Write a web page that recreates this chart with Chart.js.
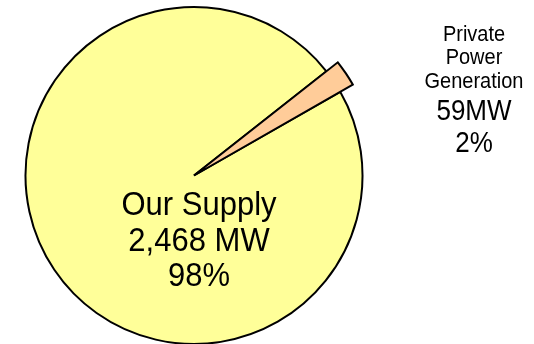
<!DOCTYPE html>
<html>
<head>
<meta charset="utf-8">
<script src="https://cdn.jsdelivr.net/npm/chart.js@4/dist/chart.umd.min.js"></script>
<style>
html,body{margin:0;padding:0;background:#fff;}
#wrap{width:534px;height:344px;position:relative;}
</style>
</head>
<body>
<div id="wrap"><canvas id="c" width="534" height="344"></canvas></div>
<script>
const categories = ["Our Supply", "Private Power Generation"];
const valuesMW = [2468, 59];
const valueLabels = ["2,468 MW", "59MW"];
const percentLabels = ["98%", "2%"];
const colors = ["#FFFF99", "#FFCC99"];

function stretchedText(ctx, t, x, y, sy) {
  ctx.save();
  ctx.translate(x, y);
  ctx.scale(1, sy);
  ctx.fillText(t, 0, 0);
  ctx.restore();
}

const labelPlugin = {
  id: 'pieLabels',
  beforeDatasetDraw(chart) {
    const meta = chart.getDatasetMeta(0);
    const small = meta.data[1];
    if (small && !small._extended) {
      small.outerRadius = small.outerRadius * 1.086;
      small._extended = true;
    }
  },
  afterDatasetsDraw(chart) {
    const ctx = chart.ctx;
    const arc = chart.getDatasetMeta(0).data[0];
    const cx = arc.x, cy = arc.y;
    ctx.save();
    ctx.fillStyle = '#000';
    ctx.textAlign = 'center';
    ctx.textBaseline = 'alphabetic';
    ctx.font = '31px "Liberation Sans", Arial, sans-serif';
    stretchedText(ctx, categories[0], cx + 5, cy + 39, 1.08);
    stretchedText(ctx, valueLabels[0], cx + 5, cy + 75, 1.08);
    stretchedText(ctx, percentLabels[0], cx + 5, cy + 110, 1.08);
    const rx = 474;
    ctx.font = '20px "Liberation Sans", Arial, sans-serif';
    const words = categories[1].split(' ');
    stretchedText(ctx, words[0], rx, 41, 1.12);
    stretchedText(ctx, words[1], rx, 64, 1.12);
    stretchedText(ctx, words[2], rx, 88, 1.12);
    ctx.font = '26px "Liberation Sans", Arial, sans-serif';
    stretchedText(ctx, valueLabels[1], rx, 120, 1.1);
    stretchedText(ctx, percentLabels[1], rx, 152, 1.1);
    ctx.restore();
  }
};

const endSmall = 60.2;

new Chart(document.getElementById('c'), {
  type: 'pie',
  data: {
    labels: categories,
    datasets: [{
      data: valuesMW,
      backgroundColor: colors,
      borderColor: '#000',
      borderWidth: 2,
      borderJoinStyle: 'miter',
      borderAlign: 'center'
    }]
  },
  options: {
    responsive: false,
    animation: false,
    events: [],
    rotation: endSmall,
    radius: 168.5,
    layout: { padding: { top: 7, bottom: 0, left: 0, right: 146 } },
    plugins: { legend: { display: false }, tooltip: { enabled: false } }
  },
  plugins: [labelPlugin]
});
</script>
</body>
</html>
